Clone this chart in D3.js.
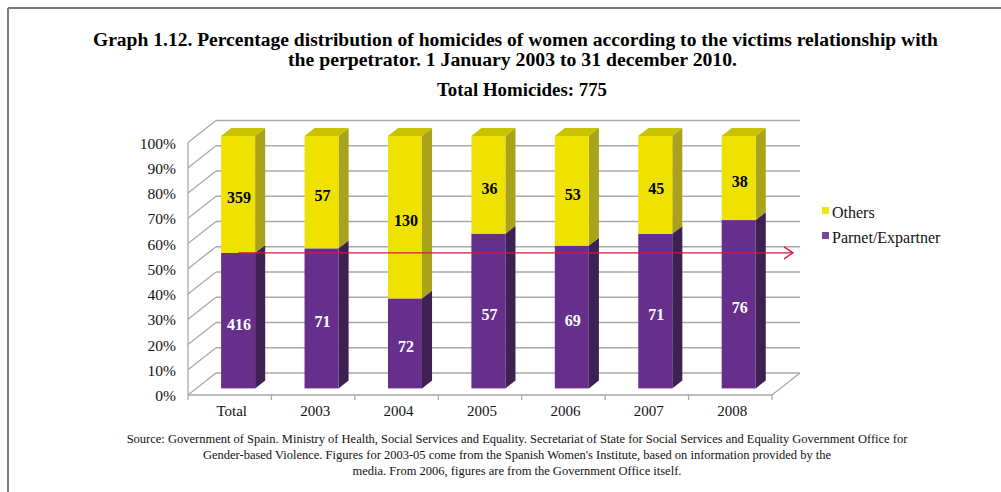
<!DOCTYPE html>
<html>
<head>
<meta charset="utf-8">
<script src="https://cdn.jsdelivr.net/npm/d3@7"></script>
<style>
  html, body { margin: 0; padding: 0; background: #fff; }
  svg { display: block; }
  text { font-family: "Liberation Serif", "Times New Roman", serif; }
</style>
</head>
<body>
<svg id="chart" width="1001" height="492"></svg>
<script>
// Homicides of women by relationship with the perpetrator, counts per period
const categories = ["Total", "2003", "2004", "2005", "2006", "2007", "2008"];
const partner = [416, 71, 72, 57, 69, 71, 76];
const others = [359, 57, 130, 36, 53, 45, 38];
const seriesNames = ["Others", "Parnet/Expartner"];
const yTickValues = [0, 0.1, 0.2, 0.3, 0.4, 0.5, 0.6, 0.7, 0.8, 0.9, 1];
const titleLines = [
  "Graph 1.12. Percentage distribution of homicides of women according to the victims relationship with",
  "the perpetrator. 1 January 2003 to 31 december 2010."
];
const subtitle = "Total Homicides: 775";
const sourceLines = [
  "Source: Government of Spain. Ministry of Health, Social Services and Equality. Secretariat of State for Social Services and Equality Government Office for",
  "Gender-based Violence. Figures for 2003-05 come from the Spanish Women's Institute, based on information provided by the",
  "media. From 2006, figures are from the Government Office itself."
];

const svg = d3.select("#chart");
const W = 1001, H = 492;

// Page frame
svg.append("line").attr("x1", 8).attr("y1", 8).attr("x2", W).attr("y2", 8)
  .attr("stroke", "#7a7a7a").attr("stroke-width", 2);
svg.append("line").attr("x1", 8).attr("y1", 8).attr("x2", 8).attr("y2", H)
  .attr("stroke", "#7a7a7a").attr("stroke-width", 2);

// Titles (wide bold serif, stretched to the set widths)
const titleWidths = [845, 449];
svg.selectAll("text.title").data(titleLines).join("text")
  .attr("class", "title")
  .attr("x", (d, i) => i === 0 ? 515.5 : 512.5).attr("y", (d, i) => 46 + i * 20)
  .attr("text-anchor", "middle")
  .attr("font-weight", "bold").attr("font-size", 18)
  .attr("textLength", (d, i) => titleWidths[i])
  .attr("lengthAdjust", "spacingAndGlyphs")
  .attr("fill", "#000")
  .text(d => d);
svg.append("text")
  .attr("x", 522).attr("y", 96)
  .attr("text-anchor", "middle")
  .attr("font-weight", "bold").attr("font-size", 18)
  .attr("textLength", 170).attr("lengthAdjust", "spacingAndGlyphs")
  .text(subtitle);

// 3D plot geometry: front plane scales plus a depth offset
const x = d3.scaleBand().domain(categories).range([188, 772]).paddingInner(0).paddingOuter(0);
const y = d3.scaleLinear().domain([0, 1]).range([395, 142.5]);
const depthX = 28, depthY = -22;
const P = (px, v, t) => [px + depthX * t, y(v) + depthY * t];
const barFront = 0.3, barBack = 0.66;
const barHalf = 17;

const grid = svg.append("g");
const gridColor = "#a9a9a9";

// Back wall gridlines
grid.selectAll("line.back").data(yTickValues).join("line")
  .attr("x1", d => P(188, d, 1)[0]).attr("x2", d => P(772, d, 1)[0])
  .attr("y1", d => P(188, d, 1)[1]).attr("y2", d => P(188, d, 1)[1])
  .attr("stroke", gridColor).attr("stroke-width", 1.6);

// Left side wall gridlines
grid.selectAll("line.side").data(yTickValues).join("line")
  .attr("x1", d => P(188, d, 0)[0]).attr("y1", d => P(188, d, 0)[1])
  .attr("x2", d => P(188, d, 1)[0]).attr("y2", d => P(188, d, 1)[1])
  .attr("stroke", gridColor).attr("stroke-width", 1.3);

// Front vertical axis
grid.append("line")
  .attr("x1", 188).attr("x2", 188).attr("y1", y(0)).attr("y2", y(1))
  .attr("stroke", gridColor).attr("stroke-width", 1.3);
// Floor edges
grid.append("line")
  .attr("x1", 188).attr("x2", 772).attr("y1", y(0)).attr("y2", y(0))
  .attr("stroke", gridColor).attr("stroke-width", 1.3);
grid.append("line")
  .attr("x1", 772).attr("y1", y(0))
  .attr("x2", P(772, 0, 1)[0]).attr("y2", P(772, 0, 1)[1])
  .attr("stroke", gridColor).attr("stroke-width", 1.3);

// Category boundary ticks
const bounds = categories.map(c => x(c)).concat([x.range()[1]]);
grid.selectAll("line.xtick").data(bounds).join("line")
  .attr("x1", d => d).attr("x2", d => d)
  .attr("y1", y(0)).attr("y2", y(0) + 5)
  .attr("stroke", gridColor).attr("stroke-width", 1.3);

// Y axis labels
svg.selectAll("text.ylab").data(yTickValues).join("text")
  .attr("x", 176).attr("y", d => y(d) + 6)
  .attr("text-anchor", "end").attr("font-size", 15.5).attr("fill", "#111")
  .text(d => d3.format(".0%")(d));

// X axis labels
svg.selectAll("text.xlab").data(categories).join("text")
  .attr("x", d => x(d) + x.bandwidth() / 2 + 2).attr("y", 416)
  .attr("text-anchor", "middle").attr("font-size", 15).attr("fill", "#111")
  .text(d => d);

// Stacked bars
const colors = {
  partner: { front: "#652f8b", side: "#3c2152", top: "#552778" },
  others: { front: "#efe200", side: "#a8a31b", top: "#c8c200" }
};
const rows = categories.map((c, i) => {
  const tot = partner[i] + others[i];
  return { cat: c, p: partner[i], o: others[i], fp: partner[i] / tot };
});

const poly = pts => pts.map(p => p.join(",")).join(" ");
const bars = svg.append("g");
rows.forEach(r => {
  const cx = x(r.cat) + x.bandwidth() / 2;
  const xl = cx - barHalf, xr = cx + barHalf;
  const segs = [
    { v0: 0, v1: r.fp, c: colors.partner, val: r.p, txt: "#fff" },
    { v0: r.fp, v1: 1, c: colors.others, val: r.o, txt: "#000" }
  ];
  segs.forEach(s => {
    // side face
    bars.append("polygon")
      .attr("points", poly([P(xr, s.v0, barFront), P(xr, s.v0, barBack), P(xr, s.v1, barBack), P(xr, s.v1, barFront)]))
      .attr("fill", s.c.side);
    // front face
    const a = P(xl, s.v1, barFront), b = P(xr, s.v0, barFront);
    bars.append("rect")
      .attr("x", a[0]).attr("y", a[1]).attr("width", b[0] - a[0]).attr("height", b[1] - a[1])
      .attr("fill", s.c.front);
  });
  // top face
  bars.append("polygon")
    .attr("points", poly([P(xl, 1, barFront), P(xr, 1, barFront), P(xr, 1, barBack), P(xl, 1, barBack)]))
    .attr("fill", colors.others.top);
  // value labels
  segs.forEach(s => {
    const mid = (P(cx, s.v0, barFront)[1] + P(cx, s.v1, barFront)[1]) / 2;
    bars.append("text")
      .attr("x", P(cx, 0, barFront)[0] + 1).attr("y", mid + 9)
      .attr("text-anchor", "middle").attr("font-weight", "bold").attr("font-size", 16)
      .attr("fill", s.txt)
      .text(s.val);
  });
});

// Reference line at the overall share of partner/ex-partner
const refShare = rows[0].fp;
const refY = P(0, refShare, barFront)[1];
const refX0 = P(x("Total") + x.bandwidth() / 2, 0, barFront)[0];
const refX1 = x.range()[1] + 21;
svg.append("line")
  .attr("x1", refX0).attr("x2", refX1).attr("y1", refY).attr("y2", refY)
  .attr("stroke", "#e0123f").attr("stroke-width", 1.3);
svg.append("path")
  .attr("d", `M${refX1 - 9},${refY - 6} L${refX1},${refY} L${refX1 - 9},${refY + 6}`)
  .attr("fill", "none").attr("stroke", "#e0123f").attr("stroke-width", 1.3);

// Legend
const legendColors = ["#f3e600", "#77489a"];
const legend = svg.append("g");
seriesNames.forEach((n, i) => {
  legend.append("rect").attr("x", 822).attr("y", 207 + i * 25).attr("width", 7).attr("height", 7)
    .attr("fill", legendColors[i]);
  legend.append("text").attr("x", 832).attr("y", 218 + i * 25)
    .attr("font-size", 16).attr("fill", "#111").text(n);
});

// Source note
svg.selectAll("text.src").data(sourceLines).join("text")
  .attr("x", 517).attr("y", (d, i) => 443 + i * 16)
  .attr("text-anchor", "middle").attr("font-size", 12.5).attr("fill", "#111")
  .text(d => d);
</script>
</body>
</html>
